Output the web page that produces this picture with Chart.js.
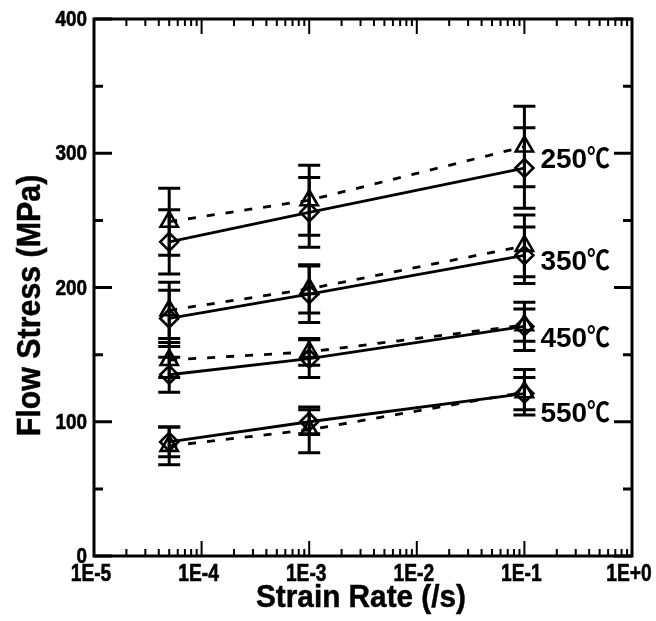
<!DOCTYPE html>
<html>
<head>
<meta charset="utf-8">
<script src="https://cdn.jsdelivr.net/npm/chart.js@4.4.0/dist/chart.umd.min.js"></script>
<style>
  html, body { margin: 0; padding: 0; background: #fff; }
  #wrap { width: 656px; height: 621px; }
</style>
</head>
<body>
<div id="wrap"><canvas id="chart"></canvas></div>
<script>
// strain rates (x) and temperature labels
const strainRates = [5e-5, 1e-3, 1e-1];
const tempLabels = ['250', '350', '450', '550'];

// flow stress, triangles (dashed) and diamonds (solid), with error bars
const tri250 = [249, 265, 305];  const triErr250 = [25, 26, 30];
const dia250 = [234, 256, 289];  const diaErr250 = [24, 26, 30];
const tri350 = [183, 199, 231];  const triErr350 = [21, 18, 23];
const dia350 = [177, 195, 224];  const diaErr350 = [21, 21, 21];
const tri450 = [146, 152, 172];  const triErr450 = [13, 10, 12];
const dia450 = [135, 147, 171];  const diaErr450 = [13, 14, 18];
const tri550 = [82, 94, 122];    const triErr550 = [14, 17, 17];
const dia550 = [85, 100, 121];   const diaErr550 = [11, 9, 12];

// axis ticks
const xMajor = [1e-5, 1e-4, 1e-3, 1e-2, 1e-1, 1e0];
const xTickLabels = ['1E-5', '1E-4', '1E-3', '1E-2', '1E-1', '1E+0'];
const yMajor = [0, 100, 200, 300, 400];
const yMinor = [50, 150, 250, 350];

// where the temperature labels sit (MPa, baseline)
const tempLabelY = [289, 213, 156, 100];

function pts(ys) {
    return strainRates.map((x, i) => ({ x: x, y: ys[i] }));
}

function series(ys, errs, dashed) {
    return {
        data: pts(ys),
        err: errs,
        showLine: true,
        borderColor: '#000',
        borderWidth: 2.8,
        borderDash: dashed ? [8, 11] : [],
        pointStyle: dashed ? 'triangle' : 'rectRot',
        pointRadius: dashed ? 10 : 9,
        pointBorderWidth: 2.6,
        pointBorderColor: '#000',
        pointBackgroundColor: 'rgba(0,0,0,0)',
        pointHoverRadius: 9
    };
}

// bold, slightly condensed text (the original uses a heavy narrow face)
function narrowText(ctx, str, x, y, font, sx, align, heavy) {
    ctx.save();
    ctx.font = font;
    ctx.textAlign = align;
    ctx.translate(x, y);
    ctx.scale(sx, 1);
    ctx.fillText(str, 0, 0);
    if (heavy) {
        ctx.lineWidth = heavy;
        ctx.strokeText(str, 0, 0);
    }
    ctx.restore();
}

const errorBars = {
    id: 'errorBars',
    beforeDatasetsDraw(chart) {
        const ctx = chart.ctx;
        const y = chart.scales.y;
        ctx.save();
        ctx.strokeStyle = '#000';
        ctx.lineWidth = 3;
        chart.data.datasets.forEach((ds, di) => {
            const meta = chart.getDatasetMeta(di);
            meta.data.forEach((pt, i) => {
                const v = ds.data[i].y;
                const top = y.getPixelForValue(v + ds.err[i]);
                const bot = y.getPixelForValue(v - ds.err[i]);
                ctx.beginPath();
                ctx.moveTo(pt.x, top); ctx.lineTo(pt.x, bot);
                ctx.moveTo(pt.x - 11, top); ctx.lineTo(pt.x + 11, top);
                ctx.moveTo(pt.x - 11, bot); ctx.lineTo(pt.x + 11, bot);
                ctx.stroke();
            });
        });
        ctx.restore();
    }
};

const frameAndText = {
    id: 'frameAndText',
    afterDraw(chart) {
        const ctx = chart.ctx;
        const x = chart.scales.x;
        const y = chart.scales.y;
        const L = x.left, R = x.right, T = y.top, B = y.bottom;
        ctx.save();
        ctx.strokeStyle = '#000';
        ctx.fillStyle = '#000';

        // frame
        ctx.lineWidth = 3;
        ctx.strokeRect(L, T, R - L, B - T);

        // y ticks, inward on both sides
        ctx.beginPath();
        yMajor.forEach(v => {
            const p = y.getPixelForValue(v);
            ctx.moveTo(L, p); ctx.lineTo(L + 18, p);
            ctx.moveTo(R, p); ctx.lineTo(R - 18, p);
        });
        yMinor.forEach(v => {
            const p = y.getPixelForValue(v);
            ctx.moveTo(L, p); ctx.lineTo(L + 9, p);
            ctx.moveTo(R, p); ctx.lineTo(R - 9, p);
        });
        ctx.stroke();

        // x ticks, log decades with minors
        ctx.lineWidth = 2;
        ctx.beginPath();
        xMajor.forEach((d, k) => {
            const p = x.getPixelForValue(d);
            ctx.moveTo(p, B); ctx.lineTo(p, B - 15);
            ctx.moveTo(p, T); ctx.lineTo(p, T + 15);
            if (k < xMajor.length - 1) {
                for (let m = 2; m <= 9; m++) {
                    const q = x.getPixelForValue(d * m);
                    ctx.moveTo(q, B); ctx.lineTo(q, B - 7);
                    ctx.moveTo(q, T); ctx.lineTo(q, T + 7);
                }
            }
        });
        ctx.stroke();

        // tick labels
        ctx.textBaseline = 'middle';
        yMajor.forEach(v => {
            narrowText(ctx, String(v), L - 7, y.getPixelForValue(v) + 1,
                'bold 22px "Liberation Sans", Arial, sans-serif', 0.86, 'right', 0.6);
        });
        ctx.textBaseline = 'alphabetic';
        xMajor.forEach((d, k) => {
            narrowText(ctx, xTickLabels[k], x.getPixelForValue(d) - 3, B + 25,
                'bold 24px "Liberation Sans", Arial, sans-serif', 0.8, 'center', 0.6);
        });

        // axis titles
        narrowText(ctx, 'Strain Rate (/s)', (L + R) / 2 - 2, 607,
            'bold 32px "Liberation Sans", Arial, sans-serif', 0.93, 'center', 0.5);
        ctx.save();
        ctx.translate(40, (T + B) / 2 + 18);
        ctx.rotate(-Math.PI / 2);
        narrowText(ctx, 'Flow Stress (MPa)', 0, 0,
            'bold 33px "Liberation Sans", Arial, sans-serif', 0.92, 'center', 0.5);
        ctx.restore();

        // temperature labels
        const lx = x.getPixelForValue(strainRates[2]) + 16;
        tempLabels.forEach((t, i) => {
            const by = y.getPixelForValue(tempLabelY[i]);
            ctx.font = 'bold 28px "Liberation Sans", Arial, sans-serif';
            ctx.textAlign = 'left';
            ctx.fillText(t, lx, by);
            const w = ctx.measureText(t).width;
            narrowText(ctx, '℃', lx + w, by,
                'bold 27px "Noto Sans CJK SC", "DejaVu Sans", sans-serif', 0.85, 'left');
        });
        ctx.restore();
    }
};

new Chart(document.getElementById('chart'), {
    type: 'scatter',
    data: {
        datasets: [
            series(tri250, triErr250, true),
            series(dia250, diaErr250, false),
            series(tri350, triErr350, true),
            series(dia350, diaErr350, false),
            series(tri450, triErr450, true),
            series(dia450, diaErr450, false),
            series(tri550, triErr550, true),
            series(dia550, diaErr550, false)
        ]
    },
    options: {
        responsive: true,
        maintainAspectRatio: false,
        animation: false,
        layout: { padding: { top: 19, right: 24, left: 0, bottom: 0 } },
        plugins: { legend: { display: false }, tooltip: { enabled: false } },
        scales: {
            x: {
                type: 'logarithmic',
                min: 1e-5,
                max: 1,
                grid: { display: false },
                border: { display: false },
                ticks: { display: false },
                afterFit(scale) { scale.height = 65; }
            },
            y: {
                type: 'linear',
                min: 0,
                max: 400,
                grid: { display: false },
                border: { display: false },
                ticks: { display: false },
                afterFit(scale) { scale.width = 94; }
            }
        }
    },
    plugins: [errorBars, frameAndText]
});
</script>
</body>
</html>
